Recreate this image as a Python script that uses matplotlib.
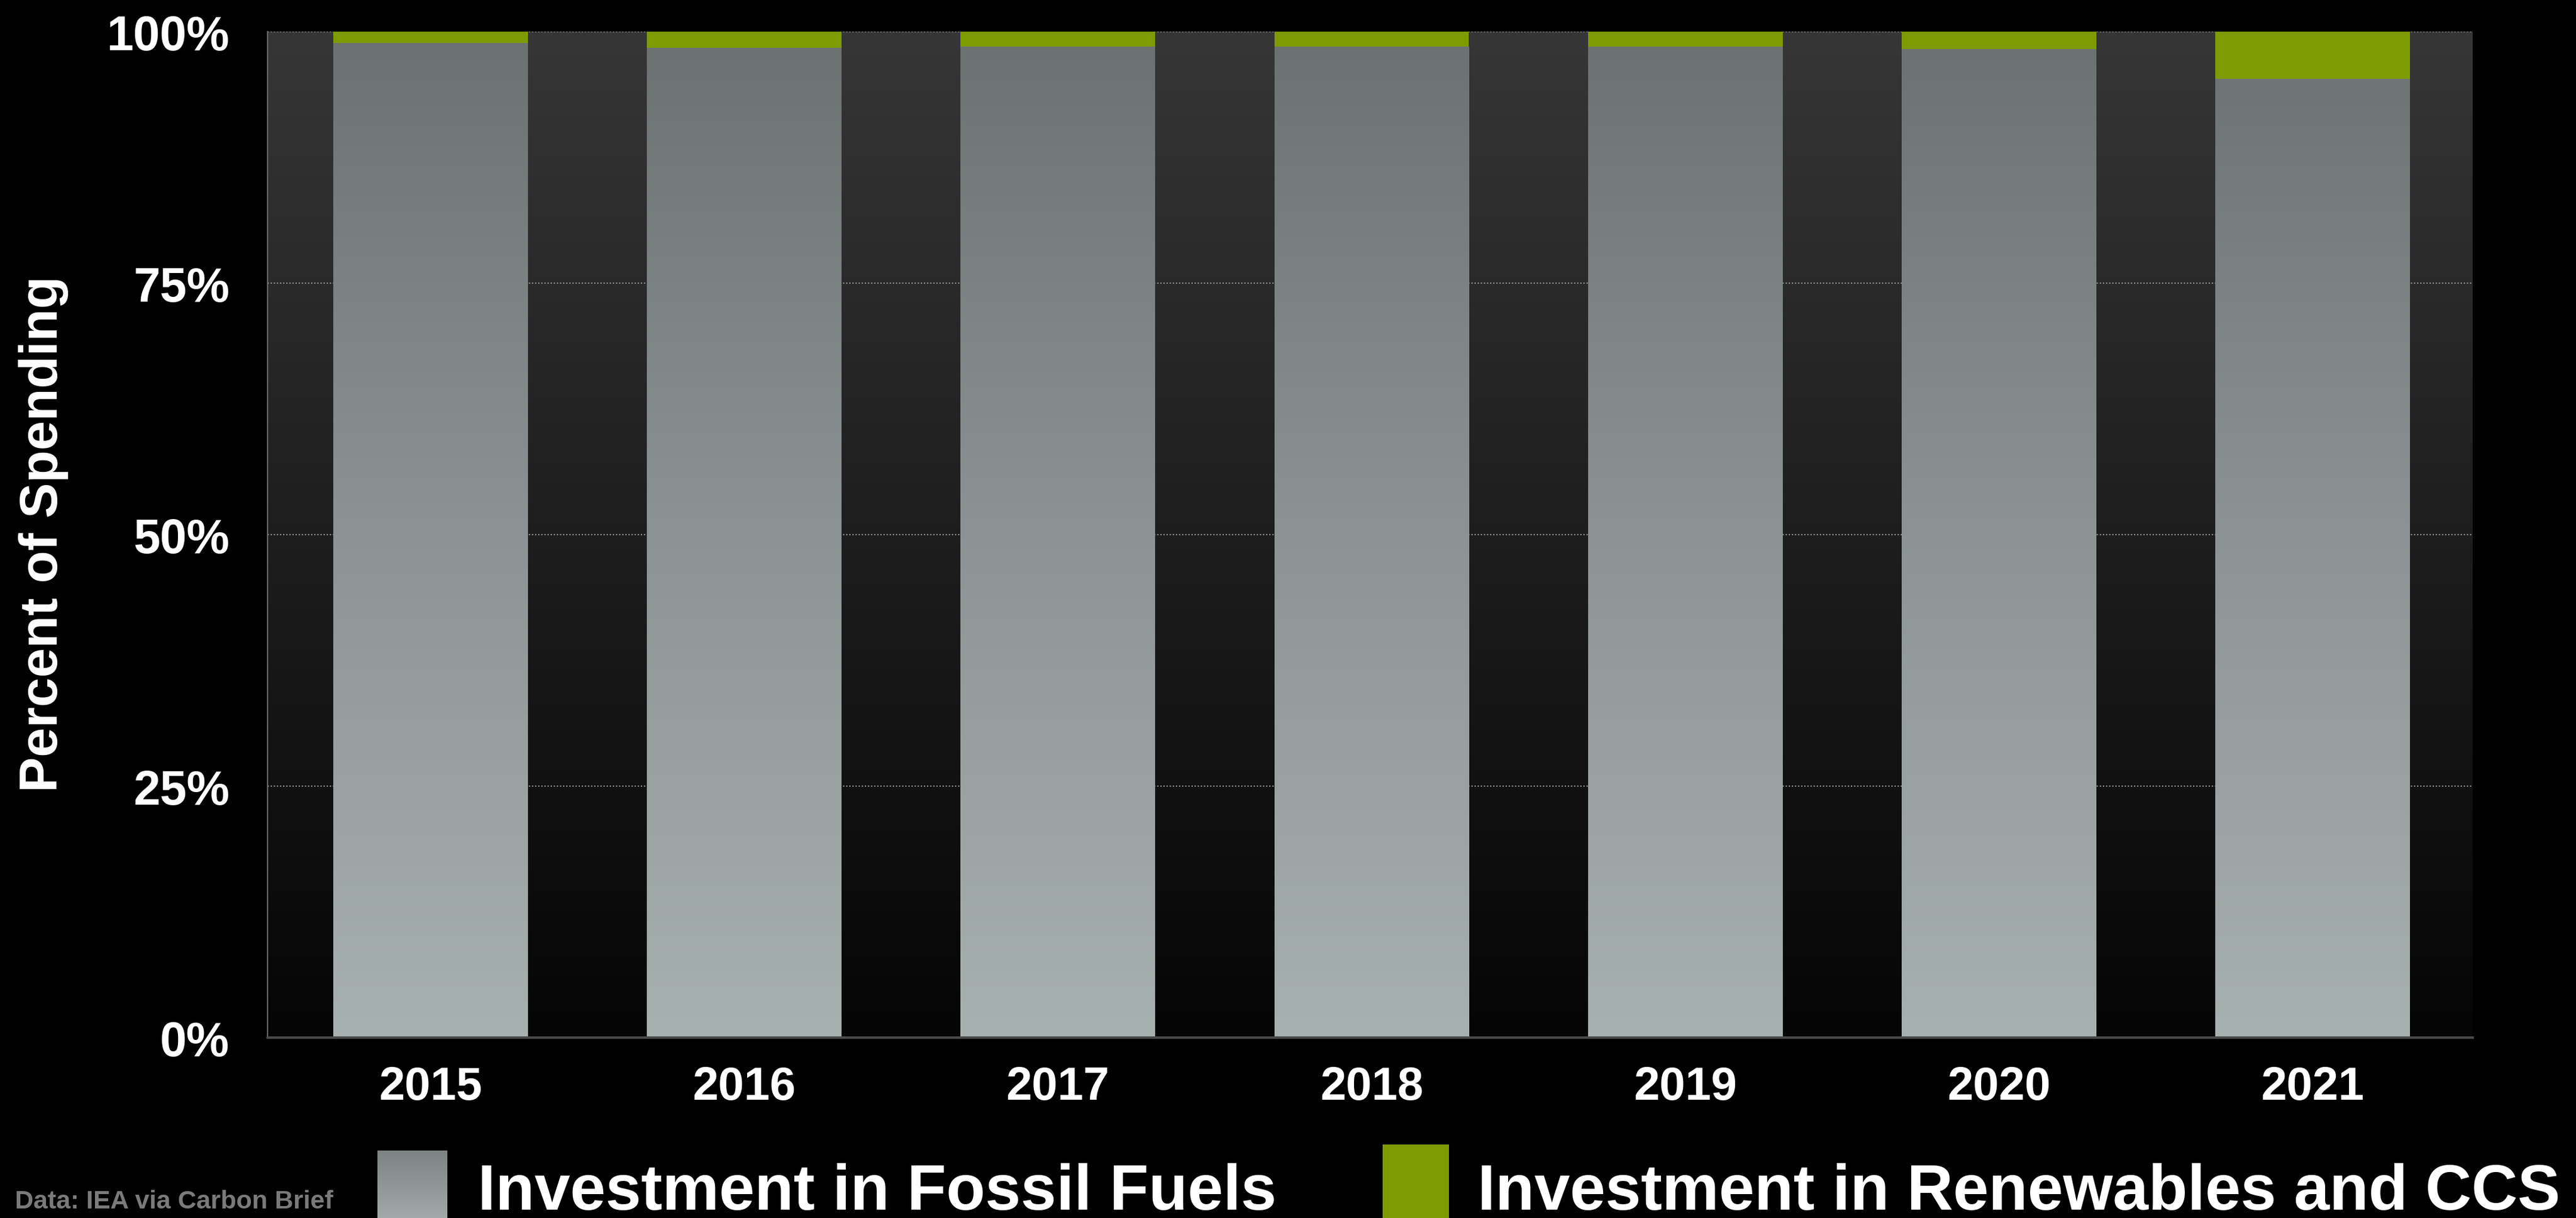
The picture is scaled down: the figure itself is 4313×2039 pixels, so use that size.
import matplotlib.pyplot as plt
import numpy as np
from matplotlib.colors import LinearSegmentedColormap
from matplotlib.patches import Rectangle

# share of spending (%)
years = ['2015', '2016', '2017', '2018', '2019', '2020', '2021']
fossil = [98.9, 98.4, 98.5, 98.5, 98.5, 98.3, 95.3]
renewables = [1.1, 1.6, 1.5, 1.5, 1.5, 1.7, 4.7]
yticks = [0, 25, 50, 75, 100]
ytick_labels = ['0%', '25%', '50%', '75%', '100%']

plt.rcParams['font.family'] = ['Liberation Sans', 'DejaVu Sans']
plt.rcParams['font.weight'] = 'bold'

fig = plt.figure(figsize=(43.13, 20.40), dpi=100, facecolor='black')
ax = fig.add_axes([0.1039, 0.148, 0.856, 0.8255])
ax.set_facecolor('black')

x = np.arange(len(years))
xlim = (-0.519, 6.51)
grad = np.linspace(0, 1, 256).reshape(-1, 1)

# dark vertical gradient behind the bars
bg_cmap = LinearSegmentedColormap.from_list('bg', ['#050505', '#363636'])
ax.imshow(grad, extent=(xlim[0], xlim[1], 0, 100), origin='lower',
          aspect='auto', cmap=bg_cmap, zorder=0)

fossil_cmap = LinearSegmentedColormap.from_list('fossil', ['#a7b1af', '#8c9394', '#6b7171'])
green = '#7f9b02'

bars = ax.bar(x, fossil, width=0.62, color='none', zorder=2)
for b in bars:
    im = ax.imshow(grad, extent=(b.get_x(), b.get_x() + b.get_width(), 0, 100),
                   origin='lower', aspect='auto', cmap=fossil_cmap, zorder=2)
    im.set_clip_path(b)
ax.bar(x, renewables, bottom=fossil, width=0.62, color=green, zorder=3)

ax.set_xlim(*xlim)
ax.set_ylim(0, 100)
ax.set_xticks(x)
ax.set_xticklabels(years)
ax.set_yticks(yticks)
ax.set_yticklabels(ytick_labels)
ax.tick_params(length=0, colors='white')
ax.tick_params(axis='x', labelsize=56, pad=33)
ax.tick_params(axis='y', labelsize=58, pad=46)

ax.set_axisbelow(True)
ax.yaxis.grid(True, linestyle=(0, (1, 1.5)), color='#9a9a9a', linewidth=1.5)
ax.xaxis.grid(False)

for s in ['top', 'right']:
    ax.spines[s].set_visible(False)
ax.spines['left'].set_color('#6a6a6a')
ax.spines['left'].set_linewidth(1.5)
ax.spines['bottom'].set_color('#4a4a4a')
ax.spines['bottom'].set_linewidth(3)

fig.text(0.01704, 0.5618, 'Percent of Spending', rotation=90, color='white',
         fontsize=64, ha='center', va='center')

# legend along the bottom edge
lax = fig.add_axes([0.1465, 0.0, 0.0271, 0.0554])
lax.imshow(grad, origin='lower', aspect='auto',
           cmap=LinearSegmentedColormap.from_list('leg', ['#a2a9a8', '#7d8282']))
lax.axis('off')
fig.text(0.1855, 0.0075, 'Investment in Fossil Fuels', color='white',
         fontsize=77, ha='left', va='baseline')

fig.patches.append(Rectangle((0.5367, 0.0), 0.0257, 0.0603, transform=fig.transFigure,
                             facecolor=green, edgecolor='none'))
fig.text(0.5735, 0.0075, 'Investment in Renewables and CCS', color='white',
         fontsize=77, ha='left', va='baseline')

fig.text(0.0058, 0.004, 'Data: IEA via Carbon Brief', color='#7a7a7a',
         fontsize=31, ha='left', va='bottom')

fig.savefig('out.png', dpi=100, facecolor='black')
